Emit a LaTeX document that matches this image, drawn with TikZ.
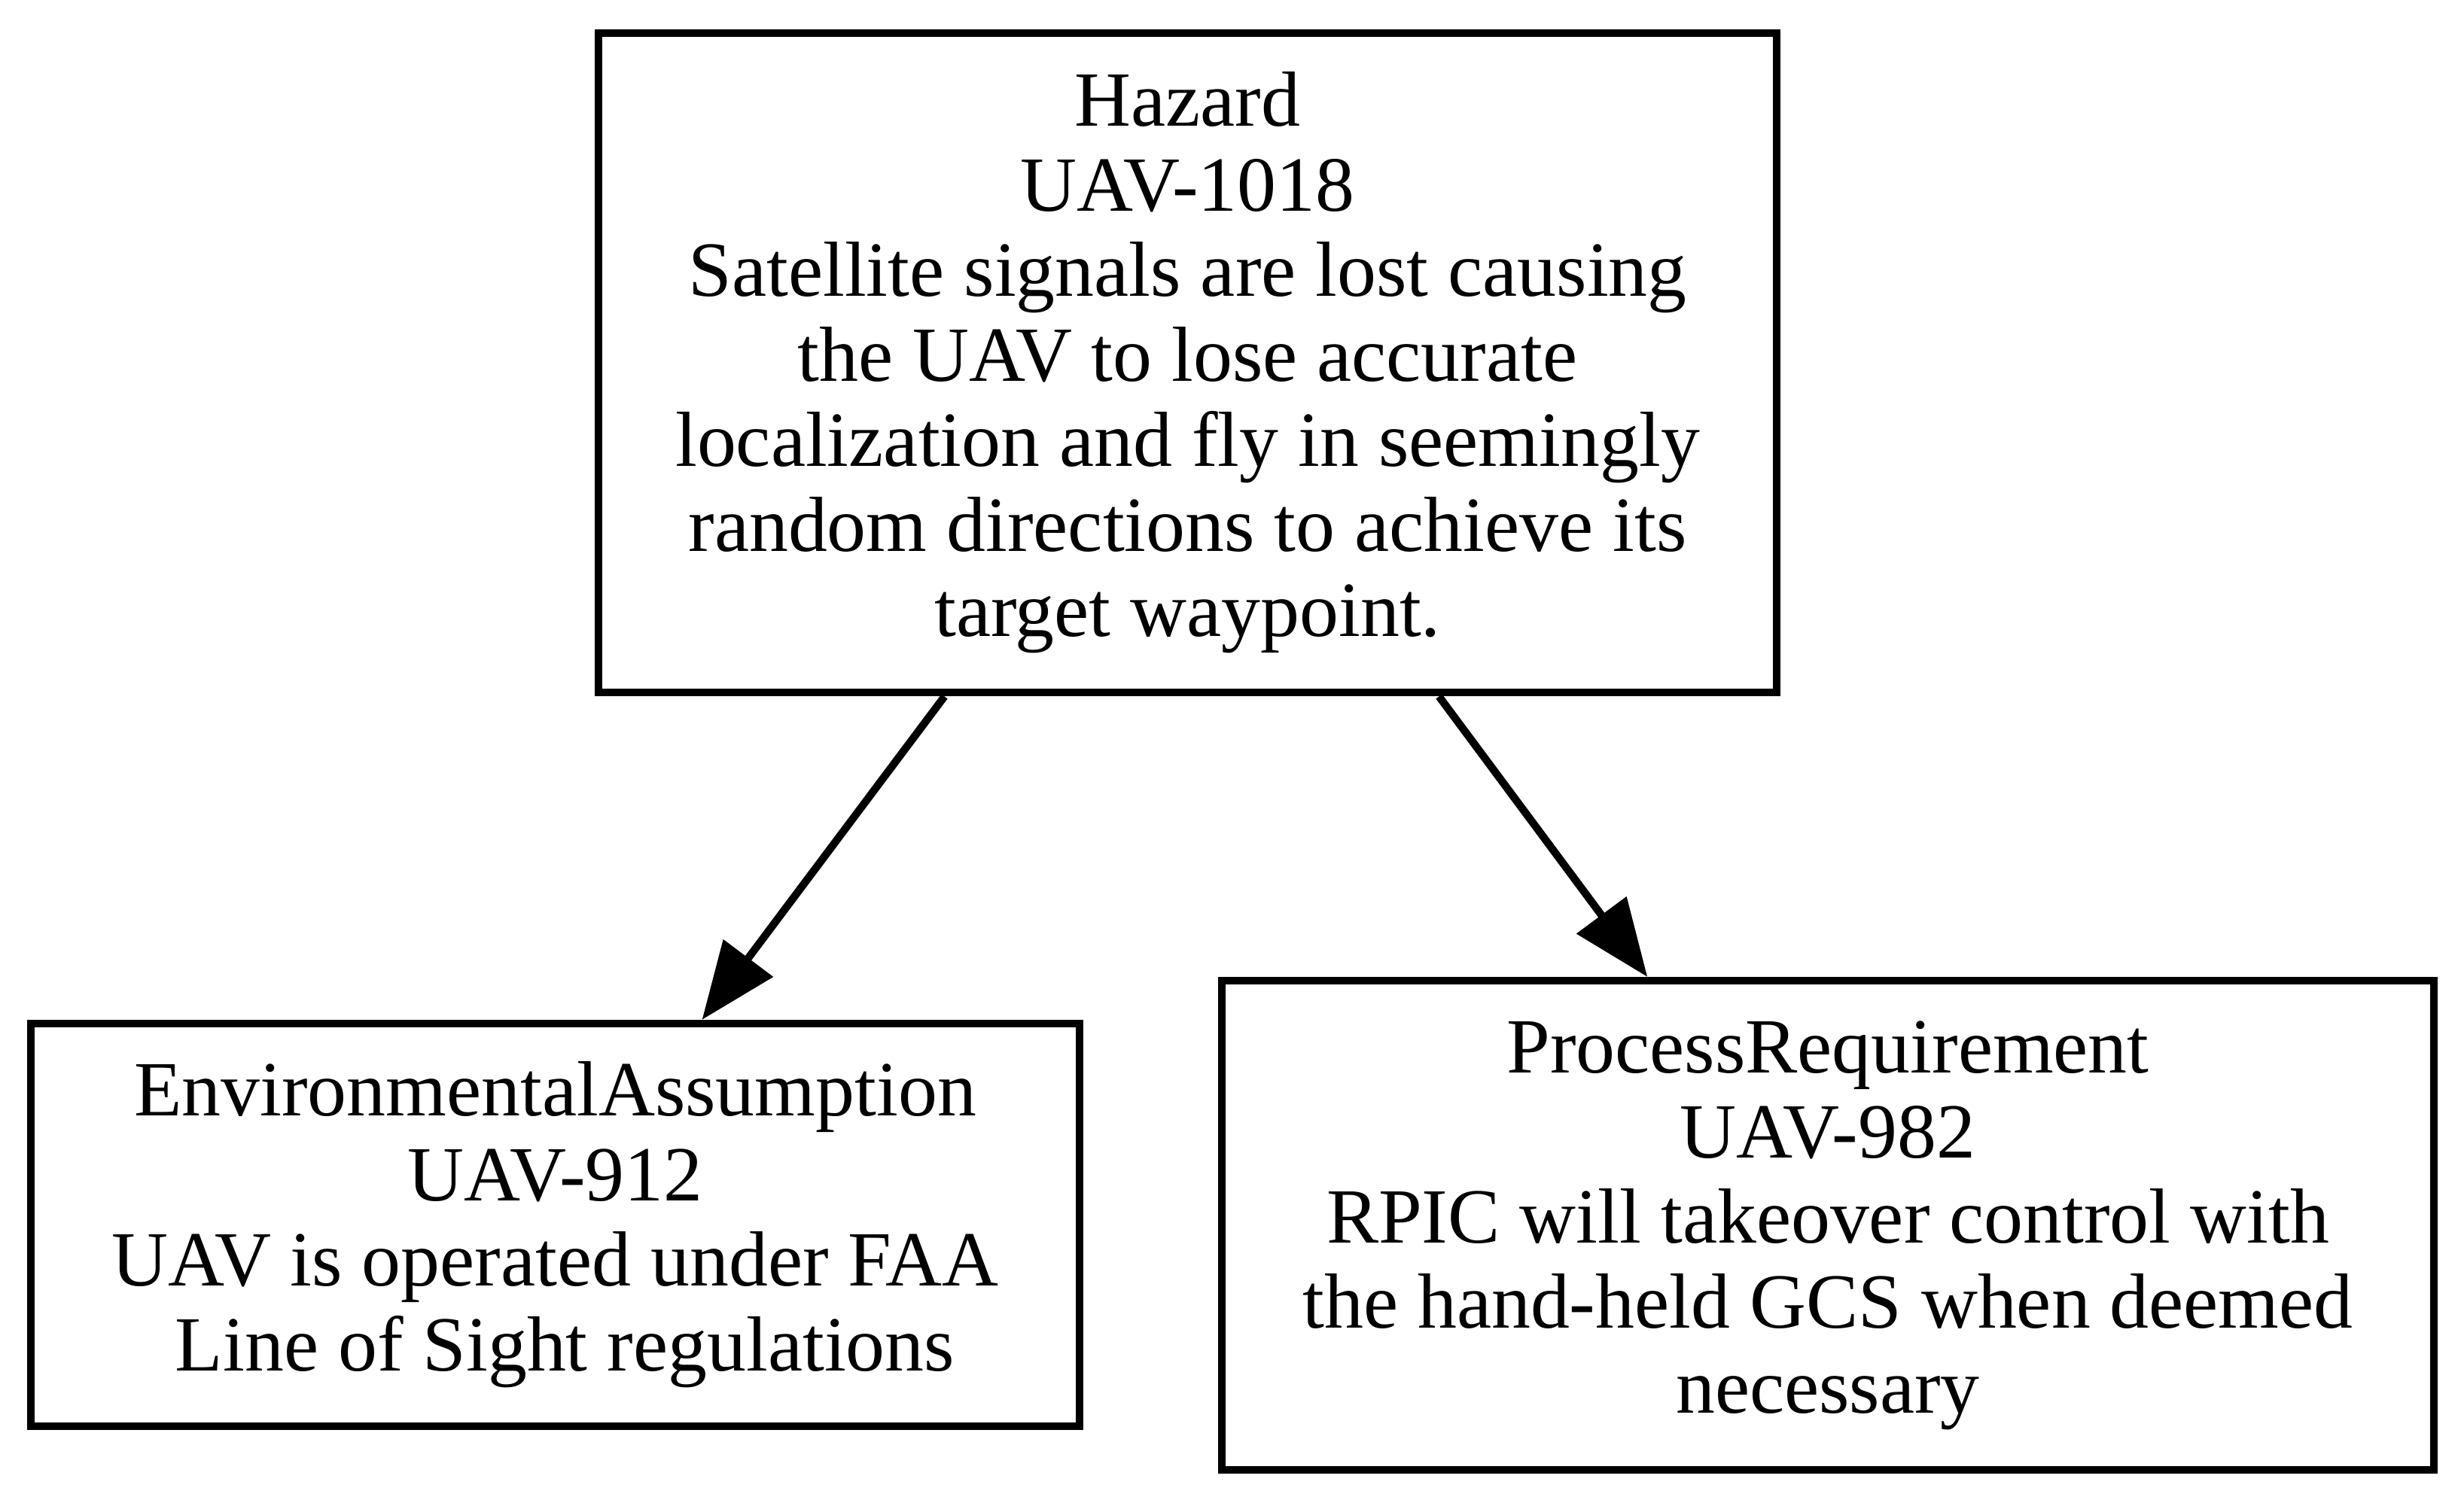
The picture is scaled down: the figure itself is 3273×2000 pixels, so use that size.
\documentclass[tikz,border=0pt]{standalone}
\usepackage{fontspec}
\setmainfont{Liberation Serif}
\usetikzlibrary{arrows.meta,positioning,calc}
\tikzset{
  reqbox/.style={draw=black,line width=1.4pt,inner sep=0pt,align=center,
    font=\fontsize{14.2}{15.46}\selectfont},
  arrow/.style={-{Triangle[length=14pt,width=11pt]},line width=1.4pt,black}
}

\begin{document}
\begin{tikzpicture}[x=0.1368pt,y=-0.1368pt]

\useasboundingbox (0,0) rectangle (3273,2000);

\node[reqbox,minimum width=214.1pt,minimum height=119.9pt] (haz) at (1577.5,482)
{Hazard\\UAV-1018\\Satellite signals are lost causing~\\the UAV to lose accurate\\
localization and fly in seemingly\\random directions to achieve its\\target waypoint.};
\node[reqbox,minimum width=190.6pt,minimum height=73.2pt] (env) at (737.5,1627.5)
{EnvironmentalAssumption\\UAV-912\\UAV is operated under FAA~\\~Line of Sight regulations};
\node[reqbox,minimum width=220.2pt,minimum height=88.9pt] (proc) at (2428,1628)
{ProcessRequirement\\UAV-982\\RPIC will takeover control with~\\the hand-held GCS when deemed\\necessary};

\draw[arrow] ($(haz.south west)!0.295!(haz.south east)$)
  -- ($(env.north west)!0.639!(env.north east)$);
\draw[arrow] ($(haz.south west)!0.712!(haz.south east)$)
  -- ($(proc.north west)!0.352!(proc.north east)$);

\end{tikzpicture}
\end{document}
